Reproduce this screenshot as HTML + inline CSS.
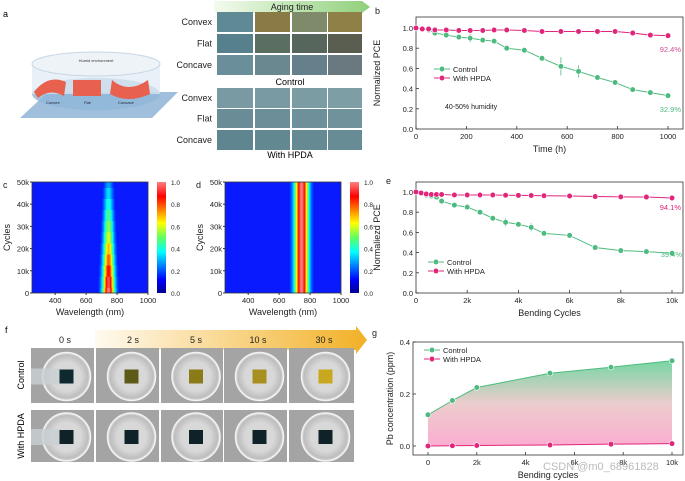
<!DOCTYPE html>
<html><head><meta charset="utf-8"><style>
html,body{margin:0;padding:0;background:#fff;width:685px;height:481px;overflow:hidden}
svg text{font-family:"Liberation Sans",Arial,sans-serif}
</style></head><body>
<svg id="fig" width="685" height="481" viewBox="0 0 685 481" xmlns="http://www.w3.org/2000/svg">
<defs>
<linearGradient id="agingGrad" x1="0" x2="1"><stop offset="0" stop-color="#f4fbef"/><stop offset="1" stop-color="#8fd07a"/></linearGradient>
<linearGradient id="timeGrad" x1="0" x2="1"><stop offset="0" stop-color="#fffaf0"/><stop offset="1" stop-color="#f2b126"/></linearGradient>
<linearGradient id="areaGrad" x1="0" y1="0" x2="0" y2="1"><stop offset="0" stop-color="#5fcf93"/><stop offset="0.5" stop-color="#e8c4c4"/><stop offset="1" stop-color="#fb9fc8"/></linearGradient>
<linearGradient id="jetGrad" x1="0" y1="1" x2="0" y2="0"><stop offset="0" stop-color="#00008f"/><stop offset="0.12" stop-color="#0000ff"/><stop offset="0.37" stop-color="#00ffff"/><stop offset="0.5" stop-color="#60ff60"/><stop offset="0.63" stop-color="#ffff00"/><stop offset="0.87" stop-color="#ff0000"/><stop offset="1" stop-color="#ff8080"/></linearGradient>
<radialGradient id="dishGrad"><stop offset="0.6" stop-color="#d8d8d8"/><stop offset="0.9" stop-color="#bdbdbd"/><stop offset="1" stop-color="#e8e8e8"/></radialGradient>
</defs>

<!-- Panel a -->
<text x="3" y="17" font-size="9">a</text>
<g>
<polygon points="20,118 48,92 178,92 152,118" fill="#9fbfdc"/>
<ellipse cx="96" cy="94" rx="64" ry="16" fill="#8fb7da" opacity="0.8"/>
<rect x="32" y="64" width="128" height="30" fill="#dfe9f3" opacity="0.7"/>
<ellipse cx="96" cy="64" rx="64" ry="12" fill="#eef3f8" stroke="#c8d6e4"/>
<text x="96" y="62" font-size="4" text-anchor="middle" fill="#333">Humid environment</text>
<path d="M34,92 Q48,74 66,82 L64,96 Q50,88 38,98 Z" fill="#e8604e"/>
<rect x="73" y="80" width="28" height="16" fill="#e8604e"/>
<path d="M112,80 Q128,94 148,80 L150,94 Q128,104 110,94 Z" fill="#e8604e"/>
<text x="46" y="104" font-size="4" fill="#223">Convex</text>
<text x="84" y="104" font-size="4" fill="#223">Flat</text>
<text x="118" y="104" font-size="4" fill="#223">Concave</text>
</g>
<g>
<polygon points="214,1 362,1 370,7 362,13 214,13" fill="url(#agingGrad)"/>
<text x="292" y="10" font-size="9" text-anchor="middle" fill="#222">Aging time</text>
</g>
<g id="agingGrid"></g>
<text x="290" y="85" font-size="9" text-anchor="middle">Control</text>
<text x="290" y="158" font-size="9" text-anchor="middle">With HPDA</text>

<!-- Panel f -->
<text x="5" y="333" font-size="9">f</text>
<g>
<polygon points="95,330 356,330 356,326 367,340 356,354 356,350 95,350" fill="url(#timeGrad)"/>
</g>
<g id="fText"></g>
<g id="fGrid"></g>
<text transform="translate(24,375) rotate(-90)" font-size="9" text-anchor="middle">Control</text>
<text transform="translate(24,436) rotate(-90)" font-size="9" text-anchor="middle">With HPDA</text>

<g id="charts"></g>
<text x="543" y="470" font-size="11" fill="#aaa" opacity="0.8">CSDN @m0_68961828</text>
</svg>
<script>
// ---------- data ----------
const bTime=[0,25,50,75,120,170,215,265,310,360,430,500,575,645,720,790,860,930,1000];
const bControl=[1,0.99,0.98,0.95,0.93,0.91,0.90,0.88,0.87,0.80,0.78,0.70,0.62,0.57,0.51,0.46,0.39,0.36,0.33];
const bHPDA=[1,0.99,0.99,0.98,0.98,0.975,0.975,0.975,0.98,0.98,0.975,0.965,0.965,0.965,0.965,0.965,0.95,0.93,0.924];
const bErr=[0,0,0,0.01,0.03,0.01,0.04,0.03,0.01,0.02,0.03,0.01,0.09,0.06,0.03,0.02,0.01,0.01,0.01];
const eCycles=[0,0.2,0.4,0.6,0.8,1,1.5,2,2.5,3,3.5,4,4.5,5,6,7,8,9,10];
const eControl=[1,0.99,0.97,0.96,0.95,0.91,0.87,0.85,0.80,0.74,0.70,0.68,0.65,0.59,0.57,0.45,0.42,0.41,0.394];
const eHPDA=[1,0.99,0.98,0.975,0.975,0.975,0.97,0.97,0.97,0.97,0.968,0.966,0.965,0.963,0.96,0.955,0.952,0.95,0.941];
const eErr=[0,0,0,0,0,0,0,0,0,0,0.04,0.02,0.04,0.03,0,0,0,0,0];
const gCycles=[0,1,2,5,7.5,10];
const gControl=[0.12,0.175,0.225,0.28,0.303,0.328];
const gHPDA=[0,0.001,0.002,0.004,0.007,0.009];
const pceTicks=[0,0.2,0.4,0.6,0.8,1.0];
const bXTicks=[0,200,400,600,800,1000];
const kTicks=[0,2,4,6,8,10];
const gYTicks=[0,0.2,0.4];
const hmCycles=[0,5,10,15,20,25,30,35,40,45,50];
const hmAmpC=[1,0.95,0.85,0.75,0.65,0.55,0.48,0.4,0.32,0.25,0.18];
const hmWidthC=[38,37,36,35,34,33,32,31,30,29,28];
const hmAmpD=[1,1,1,1,1,1,1,1,1,1,1];
const hmWidthD=[44,44,44,44,44,44,44,44,44,44,44];
const hmPeak=745;
const wlTicks=[400,600,800,1000];
const cycTicks=[0,10,20,30,40,50];
const cbTicks=[0,0.2,0.4,0.6,0.8,1.0];
const timeLabels=['0 s','2 s','5 s','10 s','30 s'];
const rowLabels=['Convex','Flat','Concave'];

const NS='http://www.w3.org/2000/svg';
const charts=document.getElementById('charts');
function mk(tag,attrs,parent){const e=document.createElementNS(NS,tag);for(const k in attrs)e.setAttribute(k,attrs[k]);(parent||charts).appendChild(e);return e;}
function txt(x,y,s,size,anchor,parent,fill){const t=mk('text',{x:x,y:y,'font-size':size,'text-anchor':anchor||'start',fill:fill||'#222'},parent);t.textContent=s;return t;}
const GREEN='#4dbb7f',PINK='#e0257a';

// ---------- panel a grid ----------
const ag=document.getElementById('agingGrid');
const colX=[217,255,292,328],colW=[36,35,35,34];
const rowsY=[[12,34,55],[88,109,130]],rowH=[20,19,20];
const ctrlColors=[['#5f8a95','#8a7a45','#7f8a6a','#8f8048'],['#56808c','#5a6e62','#56665c','#5a5e50'],['#6a8f9a','#6a8890','#65808a','#6a7880']];
const hpColors=[['#7a9aa3','#7a9aa3','#7c9ca4','#7e9ea6'],['#6a8c96','#6c8e98','#6e909a','#70929b'],['#5f8590','#628892','#658a94','#688c96']];
for(let g=0;g<2;g++){for(let r=0;r<3;r++){
 const lab=txt(212,rowsY[g][r]+rowH[r]/2+3,rowLabels[r],9,'end',ag);
 
 
 for(let c=0;c<4;c++){const rc=mk('rect',{x:colX[c],y:rowsY[g][r],width:colW[c],height:rowH[r],fill:(g?hpColors:ctrlColors)[r][c]},ag);
 
 }
}}

// ---------- panel f ----------
const fg=document.getElementById('fGrid');
const fx=[31,96,161,224,289],fw=[63,63,62,63,65];
const fy=[348,410],fh=[55,52];
const ctrlSq=['#0e2a30','#5d5a18','#8a7a18','#a89020','#c8a81e'];
const fLabX=[65,133,196,258,324];
for(let i=0;i<5;i++){const t=txt(fLabX[i],343,timeLabels[i],9,'middle',document.getElementById('fText'));
 
 }
for(let r=0;r<2;r++)for(let c=0;c<5;c++){
 const g=mk('g',{},fg);
 
 
 mk('rect',{x:fx[c],y:fy[r],width:fw[c],height:fh[r],fill:'#a4a4a4'},g);
 const cx=fx[c]+fw[c]/2+4,cy=fy[r]+fh[r]/2+1;
 mk('circle',{cx:cx,cy:cy,r:24,fill:'url(#dishGrad)',stroke:'#f2f2f2','stroke-width':1.5},g);
 mk('rect',{x:cx-7,y:cy-7,width:14,height:14,fill:r?'#0e2228':ctrlSq[c]},g);
 if(c===0)mk('rect',{x:fx[c],y:cy-8,width:cx-fx[c]-7,height:16,fill:'#c9cfd2',opacity:0.8},g);
}

// ---------- generic axes ----------
function frame(x0,y0,x1,y1){const r=mk('rect',{x:x0,y:y0,width:x1-x0,height:y1-y0,fill:'none',stroke:'#333','stroke-width':0.8});}
function lineChart(o){
 const X=v=>o.x0+(v-o.xmin)/(o.xmax-o.xmin)*(o.xw);
 const Y=v=>o.yb-(v-o.ymin)/(o.ymax-o.ymin)*(o.yh);
 if(o.area){let d='M'+X(o.xs[0])+','+Y(o.s1[0]);o.xs.forEach((v,i)=>d+=' L'+X(v)+','+Y(o.s1[i]));for(let i=o.xs.length-1;i>=0;i--)d+=' L'+X(o.xs[i])+','+Y(o.s2[i]);d+='Z';
  const a=mk('path',{d:d,fill:'url(#areaGrad)',opacity:0.85});}
 frame(o.fx0,o.fy0,o.fx1,o.fy1);
 o.yt.forEach(v=>{mk('line',{x1:o.fx0,x2:o.fx0+3,y1:Y(v),y2:Y(v),stroke:'#333','stroke-width':0.8});
  const t=txt(o.fx0-3,Y(v)+3,v.toFixed(1),7.5,'end');});
 o.xt.forEach((v,i)=>{mk('line',{x1:X(v),x2:X(v),y1:o.fy1,y2:o.fy1-3,stroke:'#333','stroke-width':0.8});
  const t=txt(X(v),o.fy1+10,o.xl[i],7.5,'middle');});
 [[o.s1,GREEN,'control'],[o.s2,PINK,'hpda']].forEach(([s,col,nm])=>{
  const pts=o.xs.map((v,i)=>X(v)+','+Y(s[i])).join(' ');
  const l=mk('polyline',{points:pts,fill:'none',stroke:col,'stroke-width':1});
  o.xs.forEach((v,i)=>{
   if(o.err&&nm==='control'&&o.err[i]>0){const e=mk('line',{x1:X(v),x2:X(v),y1:Y(s[i]-o.err[i]),y2:Y(s[i]+o.err[i]),stroke:col,'stroke-width':0.8});}
   const c=mk('circle',{cx:X(v),cy:Y(s[i]),r:2.8,fill:col,stroke:'#fff','stroke-width':0.6});
   
   });
 });
 const lg=mk('g',{});
 [[GREEN,'Control'],[PINK,'With HPDA']].forEach(([col,lab],i)=>{const yy=o.ly+i*9;
  mk('line',{x1:o.lx,x2:o.lx+16,y1:yy,y2:yy,stroke:col,'stroke-width':1},lg);
  mk('circle',{cx:o.lx+8,cy:yy,r:2.8,fill:col,stroke:'#fff','stroke-width':0.6},lg);
  txt(o.lx+19,yy+3,lab,7.5,'start',lg);});
 const yt=mk('text',{transform:`translate(${o.ytx},${(o.fy0+o.fy1)/2}) rotate(-90)`,'font-size':9,'text-anchor':'middle',fill:'#222'});yt.textContent=o.ytitle;
 const xt=txt((o.fx0+o.fx1)/2,o.fy1+23,o.xtitle,9,'middle');
}
// panel b
txt(375,14,'b',9,'start');
lineChart({fx0:416,fy0:17,fx1:683,fy1:129,x0:416,xw:252,xmin:0,xmax:1000,yb:129,yh:101,ymin:0,ymax:1,
 xs:bTime,s1:bControl,s2:bHPDA,err:bErr,yt:pceTicks,xt:bXTicks,xl:bXTicks.map(String),lx:434,ly:69,ytx:380,ytitle:'Normalized PCE',xtitle:'Time (h)'});
txt(445,109,'40-50% humidity',7,'start');
txt(681,52,'92.4%',7.5,'end',null,'#d04b96');
txt(681,112,'32.9%',7.5,'end',null,GREEN);
// panel e
txt(386,184,'e',9,'start');
lineChart({fx0:416,fy0:182,fx1:683,fy1:293,x0:416,xw:256,xmin:0,xmax:10,yb:293,yh:101,ymin:0,ymax:1,
 xs:eCycles,s1:eControl,s2:eHPDA,err:eErr,yt:pceTicks,xt:kTicks,xl:kTicks.map(v=>v?v+'k':'0'),lx:428,ly:262,ytx:380,ytitle:'Normaliezd PCE',xtitle:'Bending Cycles'});
txt(681,210,'94.1%',7.5,'end',null,PINK);
txt(682,257,'39.4%',7.5,'end',null,GREEN);
// panel g
txt(372,336,'g',9,'start');
lineChart({fx0:413,fy0:342,fx1:683,fy1:455,x0:428,xw:244,xmin:0,xmax:10,yb:446,yh:104,ymin:0,ymax:0.4,area:true,
 xs:gCycles,s1:gControl,s2:gHPDA,yt:gYTicks,xt:kTicks,xl:kTicks.map(v=>v?v+'k':'0'),lx:424,ly:350,ytx:393,ytitle:'Pb concentration (ppm)',xtitle:'Bending cycles'});

// ---------- heatmaps ----------
function jet(v){const c=[[0,[0,0,143]],[0.12,[0,0,255]],[0.37,[0,255,255]],[0.5,[96,255,96]],[0.63,[255,255,0]],[0.87,[255,0,0]],[1,[255,128,128]]];
 for(let i=1;i<c.length;i++)if(v<=c[i][0]){const f=(v-c[i-1][0])/(c[i][0]-c[i-1][0]);return 'rgb('+c[i-1][1].map((a,k)=>Math.round(a+(c[i][1][k]-a)*f)).join(',')+')';}return 'rgb(255,128,128)';}
function heatmap(px,cbx,amp,wid,label,lx){
 const py0=182,py1=293,pw=116;
 const X=w=>px+(w-250)/750*pw, Y=c=>py1-c/50*(py1-py0);
 const g=mk('g',{});
 mk('rect',{x:px,y:py0,width:pw,height:py1-py0,fill:'#0a1aff'},g);
 for(let r=0;r<hmCycles.length;r++){const c0=hmCycles[r];const yTop=Y(Math.min(50,c0+2.5)),yBot=Y(Math.max(0,c0-2.5));
  for(let w=600;w<900;w+=5){const v=0.12+amp[r]*0.88*Math.exp(-Math.pow((w+2.5-hmPeak)/wid[r],2));
   if(v<0.14)continue;
   const cell=mk('rect',{x:X(w),y:yTop,width:X(w+5)-X(w)+0.3,height:yBot-yTop+0.3,fill:jet(v)},g);
   
   }}
 frame(px,py0,px+pw,py1);
 cycTicks.forEach(v=>{const t=txt(px-3,Y(v)+3,v?v+'k':'0',7.5,'end');mk('line',{x1:px-2,x2:px,y1:Y(v),y2:Y(v),stroke:'#333'});});
 wlTicks.forEach(v=>{const t=txt(X(v),py1+10,String(v),7.5,'middle');mk('line',{x1:X(v),x2:X(v),y1:py1,y2:py1+2,stroke:'#333'});});
 const yt=mk('text',{transform:`translate(${px-22},${(py0+py1)/2}) rotate(-90)`,'font-size':9,'text-anchor':'middle',fill:'#222'});yt.textContent='Cycles';
 const xt=txt(px+pw/2,py1+22,'Wavelength (nm)',9,'middle');
 const cb=mk('rect',{x:cbx,y:py0,width:9,height:py1-py0,fill:'url(#jetGrad)'});
 cbTicks.forEach(v=>{const t=txt(cbx+14,py1-v*(py1-py0)+3,v.toFixed(1),6.5,'start');});
 const pl=txt(lx,188,label,9,'start');
}
heatmap(32,157,hmAmpC,hmWidthC,'c',3);
heatmap(225,350,hmAmpD,hmWidthD,'d',196);
</script>
</body></html>
